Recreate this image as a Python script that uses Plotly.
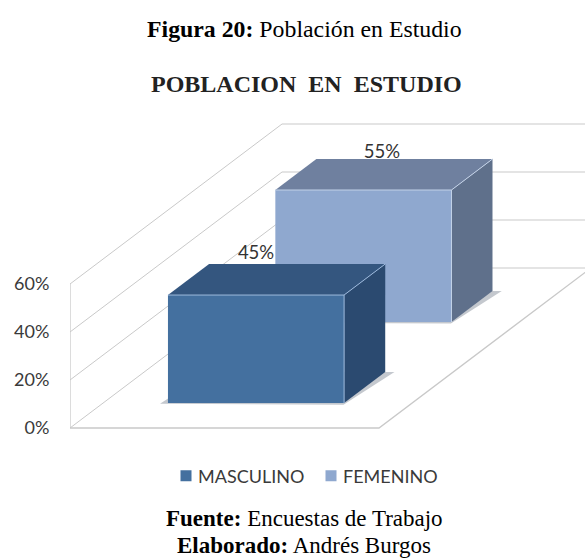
import plotly.graph_objects as go

categories = ["MASCULINO", "FEMENINO"]
values = [45, 55]
value_labels = ["45%", "55%"]
tick_values = [0, 20, 40, 60]
tick_labels = ["0%", "20%", "40%", "60%"]

# oblique projection of the 3D chart box onto the flat axes
DX, DY = 212 / 309, 160 / 2.4
U0, U1 = 0.21, 0.78
DEPTH = {"MASCULINO": (0.156, 0.35), "FEMENINO": (0.6625, 0.856)}
LABEL_T = {"MASCULINO": 0.156, "FEMENINO": 0.75}
LABEL_UP = {"MASCULINO": 17.1, "FEMENINO": 9.3}
FRONT = {"MASCULINO": "#44709f", "FEMENINO": "#8fa8cf"}
TOP = {"MASCULINO": "#34567f", "FEMENINO": "#6f809f"}
SIDE = {"MASCULINO": "#2b4a70", "FEMENINO": "#5f708b"}
EDGE = {"MASCULINO": "#9db9dc", "FEMENINO": "#c3d2e8"}
GRID = "#c9c9c9"


def X(u, t):
    return u + t * DX


def Y(v, t):
    return v + t * DY


fig = go.Figure()


def poly(pts, color):
    fig.add_trace(go.Scatter(x=[X(u, t) for u, t, v in pts], y=[Y(v, t) for u, t, v in pts],
                             mode="lines", fill="toself", fillcolor=color,
                             line=dict(width=0, color=color), showlegend=False, hoverinfo="skip"))


def line(pts, color, width=1.0):
    fig.add_trace(go.Scatter(x=[X(u, t) for u, t, v in pts], y=[Y(v, t) for u, t, v in pts],
                             mode="lines", line=dict(width=width, color=color),
                             showlegend=False, hoverinfo="skip"))


for v in tick_values:
    line([(0, 0, v), (0, 1, v), (1, 1, v)], GRID)
line([(0, 0, 0), (0, 0, tick_values[-1])], GRID, 1.3)
line([(0, 0, 0), (1, 0, 0), (1, 1, 0)], GRID, 1.3)

for cat, val in sorted(zip(categories, values), key=lambda p: -DEPTH[p[0]][0]):
    t0, t1 = DEPTH[cat]
    poly([(U0 - 0.023, t0 - 0.004, 0), (U1 + 0.005, t0 - 0.01, 0), (U1 + 0.03, t1, 0), (U0, t1, 0)], "#c4c8ce")
    poly([(U1, t0, 0), (U1, t1, 0), (U1, t1, val), (U1, t0, val)], SIDE[cat])
    poly([(U0, t0, val), (U1, t0, val), (U1, t1, val), (U0, t1, val)], TOP[cat])
    poly([(U0, t0, 0), (U1, t0, 0), (U1, t0, val), (U0, t0, val)], FRONT[cat])
    line([(U0, t0, val), (U1, t0, val), (U1, t0, 0)], EDGE[cat], 1.0)
    line([(U1, t0, val), (U1, t1, val)], EDGE[cat], 1.0)

for cat, val, lab in zip(categories, values, value_labels):
    t = LABEL_T[cat]
    fig.add_trace(go.Scatter(x=[X((U0 + U1) / 2, t)], y=[Y(val + LABEL_UP[cat], t)],
                             mode="text", text=[lab], textposition="middle center",
                             textfont=dict(family="Lato", size=18.5, color="#333333"),
                             showlegend=False, hoverinfo="skip"))

for cat in categories:
    fig.add_trace(go.Scatter(x=[None], y=[None], mode="markers", name=cat,
                             marker=dict(symbol="square", size=11, color=FRONT[cat])))


def note(text, y, size, x=304, family="Liberation Serif", color="#000000"):
    fig.add_annotation(text=text, xref="paper", yref="paper", x=(x - 70) / 515, y=(435 - y) / 315,
                       showarrow=False, xanchor="center", yanchor="middle",
                       font=dict(family=family, size=size, color=color))


note("<b>Figura 20:</b> Población en Estudio", 29, 23.8)
note("<b>POBLACION  EN  ESTUDIO</b>", 84, 24, x=306, color="#222222")
note("<b>Fuente:</b> Encuestas de Trabajo", 518.5, 23)
note("<b>Elaborado:</b> Andrés Burgos", 545.5, 23)

fig.update_layout(
    width=585, height=559, margin=dict(l=70, r=0, t=120, b=124),
    paper_bgcolor="white", plot_bgcolor="white", hovermode=False,
    xaxis=dict(range=[0, 515 / 309], visible=False),
    yaxis=dict(range=[-7 / 2.4, 308 / 2.4], tickvals=tick_values, ticktext=tick_labels,
               showgrid=False, zeroline=False, showline=False,
               ticks="outside", ticklen=16, tickcolor="rgba(0,0,0,0)",
               tickfont=dict(family="Lato", size=18, color="#3a3a3a")),
    legend=dict(orientation="h", x=(158 - 70) / 515, xanchor="left", y=(435 - 476) / 315, yanchor="middle",
                font=dict(family="Lato", size=18, color="#3a3a3a"), itemwidth=30,
                entrywidth=100, entrywidthmode="pixels"),
)

post = """document.body.style.margin='0';
function nudge(){document.querySelectorAll('.legendsymbols').forEach(function(e){e.setAttribute('transform','translate(8,0)');});}
nudge();setTimeout(nudge,100);"""
fig.write_html("out.html", post_script=post, config={"displayModeBar": False})
